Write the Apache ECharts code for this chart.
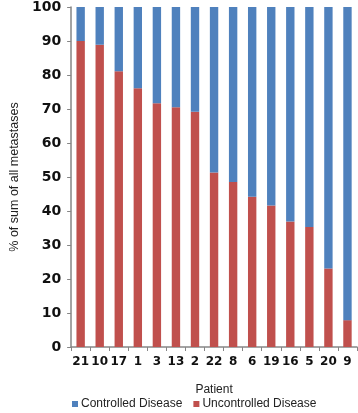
<!DOCTYPE html>
<html>
<head>
<meta charset="utf-8">
<script src="https://cdn.jsdelivr.net/npm/echarts@6/dist/echarts.min.js"></script>
<style>
  html, body { margin: 0; padding: 0; background: #fff; }
  #chart { width: 358px; height: 413px; }
</style>
</head>
<body>
<div id="chart"></div>
<script>
// patients, ordered as in the figure
const patients = ['21', '10', '17', '1', '3', '13', '2', '22', '8', '6', '19', '16', '5', '20', '9']
// % uncontrolled disease
const uncontrolled = [90, 88.9, 81.1, 76.1, 71.7, 70.5, 69.2, 51.3, 48.5, 44.2, 41.6, 36.9, 35.3, 23.1, 7.9]
const controlled = [10, 11.1, 18.9, 23.9, 28.3, 29.5, 30.8, 48.7, 51.5, 55.8, 58.4, 63.1, 64.7, 76.9, 92.1]

const blue = '#4F81BD'
const red = '#C0504D'
const axisColor = '#868686'

const chart = echarts.init(document.getElementById('chart'))

const option = {
  animation: false,
  textStyle: { fontFamily: 'Liberation Sans, Arial, sans-serif' },
  grid: { left: 52, right: 1, top: 6, bottom: 66 },
  legend: {
    top: 398,
    left: 72,
    padding: 0,
    itemWidth: 6,
    itemHeight: 6,
    itemGap: 11,
    icon: 'rect',
    textStyle: { color: '#222', fontSize: 12, padding: [0, 0, 0, -2] },
    data: ['Controlled Disease', 'Uncontrolled Disease']
  },
  xAxis: {
    type: 'category',
    data: patients,
    name: 'Patient',
    nameLocation: 'middle',
    nameGap: 37,
    nameTextStyle: { color: '#222', fontSize: 12 },
    axisLine: { lineStyle: { color: axisColor, width: 1.5 } },
    axisTick: { show: true, length: 4, alignWithLabel: false, lineStyle: { color: axisColor } },
    axisLabel: {
      color: '#111',
      fontWeight: 'bold',
      fontSize: 12,
      margin: 9,
      interval: 0,
      fontFamily: 'DejaVu Sans, sans-serif'
    }
  },
  yAxis: {
    type: 'value',
    min: 0,
    max: 100,
    interval: 10,
    name: '% of sum of all metastases',
    nameLocation: 'middle',
    nameGap: 46,
    nameTextStyle: { color: '#222', fontSize: 12.5 },
    splitLine: { show: false },
    axisLine: { show: true, lineStyle: { color: axisColor, width: 1.5 } },
    axisTick: { show: true, length: 4, lineStyle: { color: axisColor } },
    axisLabel: {
      color: '#111',
      fontWeight: 'bold',
      fontSize: 14,
      margin: 10,
      fontFamily: 'DejaVu Sans, sans-serif'
    }
  },
  series: [
    {
      name: 'Uncontrolled Disease',
      type: 'bar',
      stack: 'total',
      barWidth: '44%',
      data: uncontrolled,
      itemStyle: { color: red }
    },
    {
      name: 'Controlled Disease',
      type: 'bar',
      stack: 'total',
      barWidth: '44%',
      data: controlled,
      itemStyle: { color: blue }
    }
  ]
}

chart.setOption(option)
</script>
</body>
</html>
